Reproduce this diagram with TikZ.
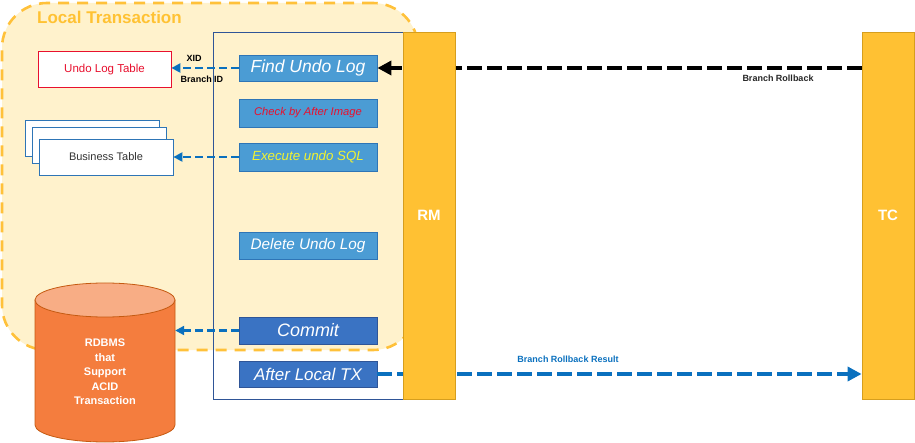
\documentclass[tikz,border=0pt]{standalone}
\usepackage{fontspec}
\setmainfont{Liberation Sans}
\usetikzlibrary{arrows.meta}
\definecolor{ltfill}{HTML}{FFF2CC}
\definecolor{ltborder}{HTML}{FFC13A}
\definecolor{lttext}{HTML}{FFC233}
\definecolor{barfill}{HTML}{FFC133}
\definecolor{barborder}{HTML}{D69E1E}
\definecolor{lblue}{HTML}{4B9CD4}
\definecolor{lblueb}{HTML}{2E75B6}
\definecolor{dblue}{HTML}{3A73C3}
\definecolor{dblueb}{HTML}{2F5597}
\definecolor{arrblue}{HTML}{0A70BE}
\definecolor{dborange}{HTML}{F47D3E}
\definecolor{dbtop}{HTML}{F8AD85}
\definecolor{dbedge}{HTML}{C55A11}
\definecolor{redtxt}{HTML}{E8102E}
\definecolor{yeltxt}{HTML}{F2F230}
\definecolor{tblborder}{HTML}{2E75B6}
\tikzset{
  ltbox/.style={draw=ltborder, fill=ltfill, line width=2.6pt, dash pattern=on 11pt off 8pt, rounded corners=45pt, inner sep=0pt},
  stepbox/.style={draw=lblueb, fill=lblue, line width=0.8pt, minimum width=138pt, inner sep=0pt, font=\itshape, text=white},
  darkbox/.style={stepbox, draw=dblueb, fill=dblue},
  barbox/.style={draw=barborder, fill=barfill, line width=0.8pt, minimum width=52pt, minimum height=367pt, inner sep=0pt, text=white, font=\bfseries\fontsize{15}{18}\selectfont},
  tblbox/.style={draw=tblborder, fill=white, line width=0.8pt, minimum width=134pt, minimum height=36pt, inner sep=0pt},
  shortarr/.style={draw=arrblue, line width=2.6pt, dash pattern=on 8pt off 4pt, -{Triangle[length=9pt,width=9pt]}},
  longarr/.style={line width=4.5pt, dash pattern=on 15pt off 5pt},
  smalllbl/.style={font=\bfseries\fontsize{9}{11}\selectfont, inner sep=0pt}
}
\begin{document}
\begin{tikzpicture}[x=1pt,y=-1pt]
\useasboundingbox (0,0) rectangle (915,443);
% Local transaction group
\node[ltbox, minimum width=416pt, minimum height=347pt] (lt) at (210,176.5) {};
\node[anchor=west, inner sep=0pt, text=lttext, font=\bfseries\fontsize{17}{20}\selectfont] (lttitle) at (37,17) {Local Transaction};
% RM container
\node[draw=dblueb, line width=0.8pt, minimum width=190pt, minimum height=367pt, inner sep=0pt] (container) at (308,215.5) {};
% steps
\node[stepbox, minimum height=26pt, font=\itshape\fontsize{17.5}{20}\selectfont] (find) at (308,68) {Find Undo Log};
\node[stepbox, minimum height=28pt, text=redtxt, font=\itshape\fontsize{11.2}{13}\selectfont] (check) at (308,113) {Check by After Image};
\node[stepbox, minimum height=28pt, text=yeltxt, font=\itshape\fontsize{13.3}{16}\selectfont] (exec) at (308,157) {Execute undo SQL};
\node[stepbox, minimum height=27pt, font=\itshape\fontsize{15.3}{18}\selectfont] (delete) at (308,245.5) {Delete Undo Log};
\node[darkbox, minimum height=27pt, font=\itshape\fontsize{18}{21}\selectfont] (commit) at (308,330.5) {Commit};
\node[darkbox, minimum height=26pt, font=\itshape\fontsize{17}{20}\selectfont] (after) at (308,374) {After Local TX};
% tables
\node[draw=redtxt, fill=white, line width=0.8pt, minimum width=133pt, minimum height=36pt, inner sep=0pt, text=redtxt, font=\fontsize{11.5}{14}\selectfont] (undo) at (104.5,69.5) {Undo Log Table};
\node[tblbox] (biz3) at (92,138.5) {};
\node[tblbox] (biz2) at (99,145.5) {};
\node[tblbox, font=\fontsize{11}{13}\selectfont, text=black!80] (biz) at (106,157) {Business Table};
% database cylinder
\draw[fill=dborange, draw=dbedge, line width=0.8pt] (35,300) -- (35,425) arc[start angle=180, end angle=0, x radius=70, y radius=17] -- (175,300) -- cycle;
\draw[fill=dbtop, draw=dbedge, line width=0.8pt] (105,300) ellipse[x radius=70, y radius=17];
\node[align=center, text=white, font=\bfseries\fontsize{11}{14.5}\selectfont, minimum width=140pt, minimum height=125pt, inner sep=0pt] (db) at (105,372) {RDBMS\\that\\Support\\ACID\\Transaction};
% TC bar
\node[barbox] (tc) at (888,215.5) {TC};
% connectors
\draw[shortarr] (find.west) -- (undo.east |- find.west);
\node[smalllbl] (xid) at (194,58) {XID};
\node[smalllbl] (bid) at (202,79) {Branch ID};
\draw[shortarr] (exec.west) -- (biz.east);
\draw[shortarr] (commit.west) -- (commit.west -| db.east);
\draw[longarr, draw=black, -{Triangle[length=14pt,width=14pt]}] (tc.west |- find.east) -- (find.east);
\node[smalllbl, text=black!85] (brl) at (778,78) {Branch Rollback};
\draw[longarr, draw=arrblue, -{Triangle[length=14pt,width=14pt]}] (after.east) -- (after.east -| tc.west);
\node[smalllbl, text=arrblue] (brr) at (568,359) {Branch Rollback Result};
% RM bar on top
\node[barbox] (rm) at (429,215.5) {RM};
\end{tikzpicture}
\end{document}
